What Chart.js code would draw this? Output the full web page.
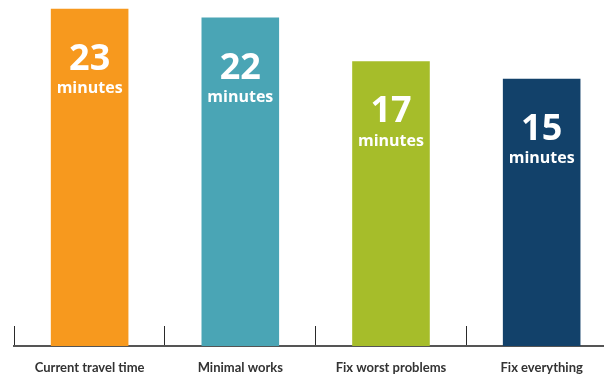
<!DOCTYPE html>
<html>
<head>
<meta charset="utf-8">
<script src="https://cdn.jsdelivr.net/npm/chart.js@4"></script>
<style>
    html, body { margin: 0; padding: 0; background: #fff; overflow: hidden; }
    #wrap { width: 617px; height: 376px; }
</style>
</head>
<body>
<div id="wrap"><canvas id="travelChart"></canvas></div>
<script>
const categories = ["Current travel time", "Minimal works", "Fix worst problems", "Fix everything"];
const minutes = [23, 22, 17, 15];
const barColors = ["#F7991E", "#4AA5B5", "#A6BD2A", "#12416A"];
const unitLabel = "minutes";

// visible axis floor sits below zero in the original
const yMin = -15.6;
const yMax = 24.0;

const barLabels = {
    id: "barLabels",
    afterDatasetsDraw(chart) {
        const c = chart.ctx;
        const meta = chart.getDatasetMeta(0);
        c.save();
        c.fillStyle = "#fff";
        c.textAlign = "center";
        c.textBaseline = "middle";
        meta.data.forEach((bar, i) => {
            c.font = "bold 36px 'Open Sans'";
            c.fillText(String(minutes[i]), bar.x, bar.y + 51);
            c.font = "bold 16px 'Open Sans'";
            c.fillText(unitLabel, bar.x, bar.y + 80);
        });
        c.restore();
    }
};

let ctx = document.getElementById("travelChart").getContext("2d");
let myChart = new Chart(ctx, {
    type: "bar",
    data: {
        labels: categories,
        datasets: [{
            data: minutes,
            backgroundColor: barColors,
            base: yMin,
            barPercentage: 0.515,
            categoryPercentage: 1,
        }],
    },
    options: {
        responsive: true,
        maintainAspectRatio: false,
        animation: false,
        layout: { padding: { left: 6, right: 0, top: 0, bottom: 0 } },
        plugins: { legend: { display: false }, tooltip: { enabled: false } },
        scales: {
            x: {
                afterFit: s => { s.height = 30; },
                grid: {
                    offset: true,
                    drawOnChartArea: false,
                    drawTicks: true,
                    tickLength: -20,
                    color: "#2a2a2a",
                    lineWidth: 1,
                },
                border: { display: true, color: "#555", width: 2 },
                ticks: {
                    padding: 34,
                    color: "#333",
                    font: { family: "Lato", weight: "bold", size: 13 },
                },
            },
            y: { display: false, min: yMin, max: yMax },
        },
    },
    plugins: [barLabels],
});
</script>
</body>
</html>
